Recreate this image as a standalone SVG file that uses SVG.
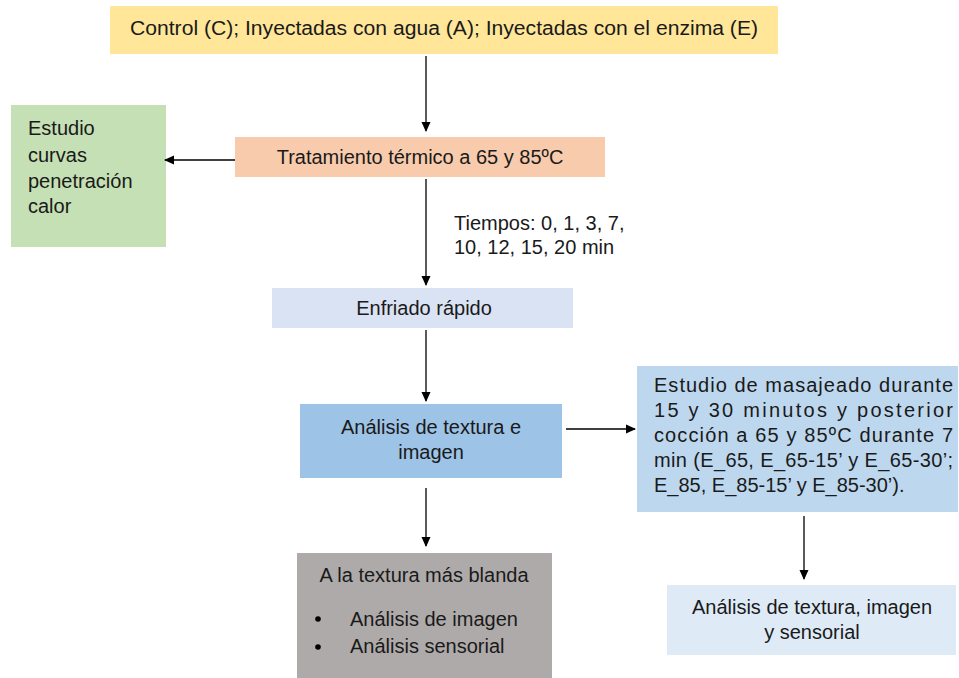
<svg xmlns="http://www.w3.org/2000/svg" width="959" height="678" viewBox="0 0 959 678">
<defs>
<style>
text{font-family:"Liberation Sans",Arial,sans-serif;font-size:20px;fill:#1a1a1a}
.c{text-anchor:middle}
.ln{stroke:#000;stroke-width:1.3;fill:none}
</style>
<marker id="ah" viewBox="0 0 10 10" refX="9" refY="5" markerWidth="10" markerHeight="10" markerUnits="userSpaceOnUse" orient="auto">
<path d="M0,0.5 L10,5 L0,9.5 z" fill="#000"/>
</marker>
</defs>
<rect width="959" height="678" fill="#fff"/>
<g id="n1"><rect x="110" y="6" width="668" height="48" fill="#FFE699"/><text class="c" x="444" y="35" textLength="628" lengthAdjust="spacingAndGlyphs">Control (C); Inyectadas con agua (A); Inyectadas con el enzima (E)</text></g>
<g id="n2"><rect x="235" y="137" width="370" height="40" fill="#F8CBAD"/><text class="c" x="420" y="164">Tratamiento térmico a 65 y 85ºC</text></g>
<g id="n3"><rect x="11" y="105" width="155" height="142" fill="#C5E0B4"/><text x="28" y="135">Estudio</text><text x="28" y="162">curvas</text><text x="28" y="188">penetración</text><text x="28" y="213">calor</text></g>
<g id="lbl"><text x="454" y="230">Tiempos: 0, 1, 3, 7,</text><text x="454" y="254">10, 12, 15, 20 min</text></g>
<g id="n4"><rect x="272" y="288" width="301" height="40" fill="#DAE3F3"/><text class="c" x="424" y="315">Enfriado rápido</text></g>
<g id="n5"><rect x="300" y="404" width="262" height="74" fill="#9DC3E6"/><text class="c" x="431" y="434">Análisis de textura e</text><text class="c" x="431" y="459">imagen</text></g>
<g id="n6"><rect x="637" y="366" width="321" height="146" fill="#BDD7EE"/>
<text x="654" y="392" textLength="299" lengthAdjust="spacing">Estudio de masajeado durante</text>
<text x="654" y="417" textLength="299" lengthAdjust="spacing">15 y 30 minutos y posterior</text>
<text x="654" y="442" textLength="299" lengthAdjust="spacing">cocción a 65 y 85ºC durante 7</text>
<text x="654" y="467" textLength="299" lengthAdjust="spacing">min (E_65, E_65-15’ y E_65-30’;</text>
<text x="654" y="492">E_85, E_85-15’ y E_85-30’).</text></g>
<g id="n7"><rect x="297" y="553" width="255" height="125" fill="#AEAAAA"/><text class="c" x="424" y="582">A la textura más blanda</text><circle cx="318" cy="619" r="2.8" fill="#000"/><circle cx="318" cy="647" r="2.8" fill="#000"/><text x="350" y="626">Análisis de imagen</text><text x="350" y="653">Análisis sensorial</text></g>
<g id="n8"><rect x="667" y="585" width="289" height="70" fill="#DEEBF7"/><text class="c" x="812" y="614">Análisis de textura, imagen</text><text class="c" x="812" y="639">y sensorial</text></g>
<g id="connectors">
<line class="ln" x1="426" y1="56" x2="426" y2="131" marker-end="url(#ah)"/>
<line class="ln" x1="235" y1="160" x2="165" y2="160" marker-end="url(#ah)"/>
<line class="ln" x1="426" y1="179" x2="426" y2="285" marker-end="url(#ah)"/>
<line class="ln" x1="426" y1="330" x2="426" y2="401" marker-end="url(#ah)"/>
<line class="ln" x1="566" y1="429" x2="635" y2="429" marker-end="url(#ah)"/>
<line class="ln" x1="426" y1="488" x2="426" y2="546" marker-end="url(#ah)"/>
<line class="ln" x1="804" y1="516" x2="804" y2="579" marker-end="url(#ah)"/>
</g>
</svg>
